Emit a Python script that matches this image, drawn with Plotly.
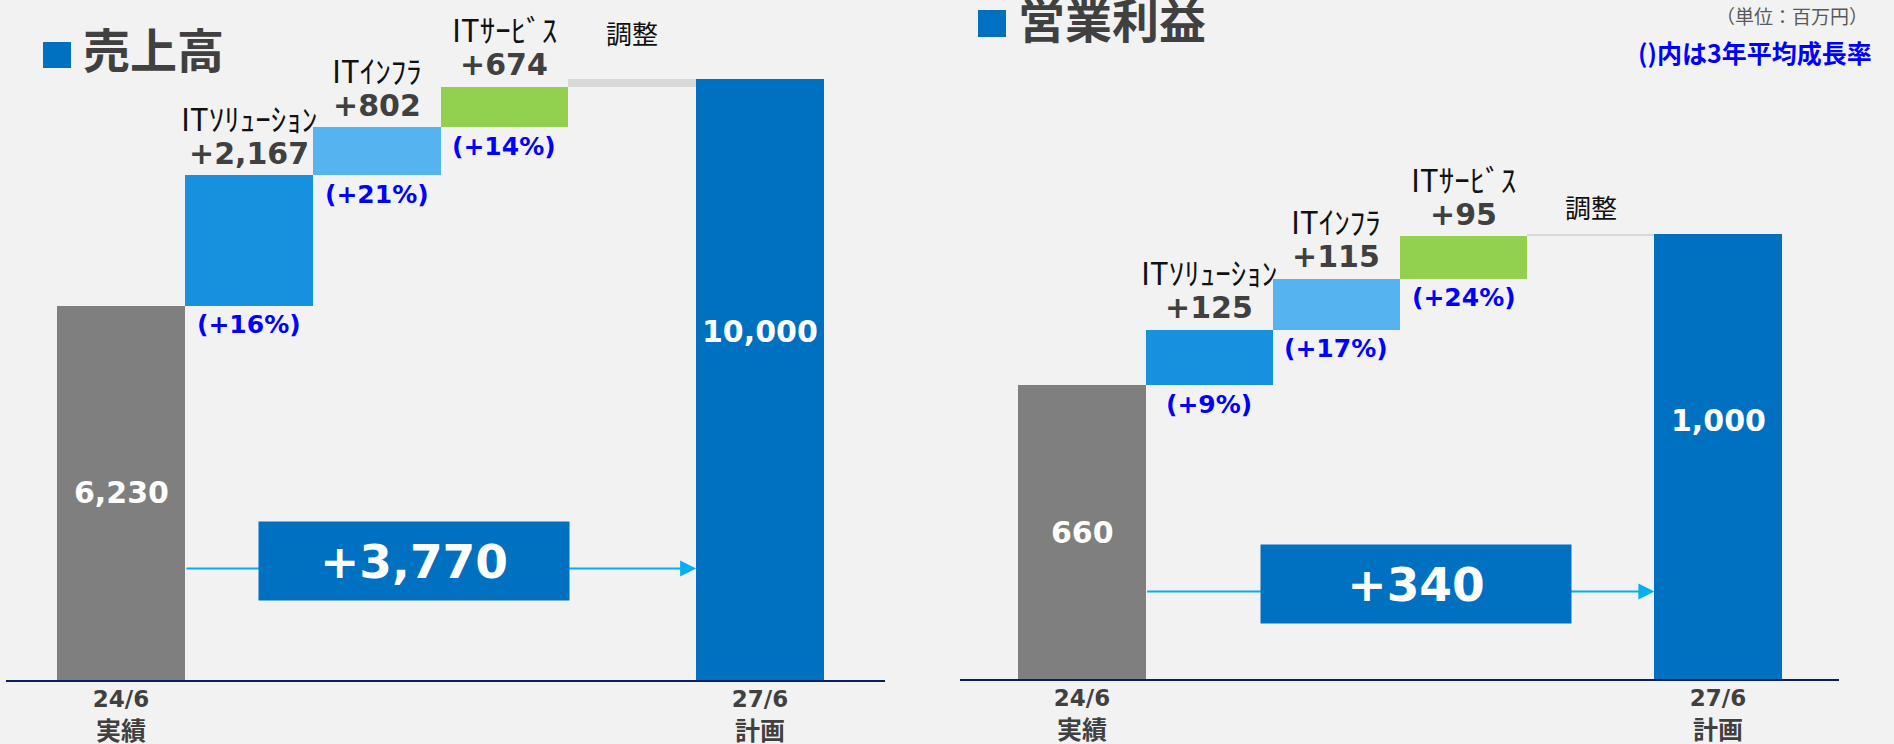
import plotly.graph_objects as go

W, H = 1894, 744

# ---------------- data ----------------
categories = ["24/6 実績", "ITｿﾘｭｰｼｮﾝ", "ITｲﾝﾌﾗ", "ITｻｰﾋﾞｽ", "調整", "27/6 計画"]
tick_labels = ["<span style='font-size:23px'>24/6</span><br>実績",
               "<span style='font-size:23px'>27/6</span><br>計画"]

sales_title = "売上高"
sales_start = 6230
sales_increments = [2167, 802, 674]
sales_plan = 10000
sales_cagr = ["+16%", "+21%", "+14%"]

profit_title = "営業利益"
profit_start = 660
profit_increments = [125, 115, 95]
profit_plan = 1000
profit_cagr = ["+9%", "+17%", "+24%"]

unit_text = "（単位：百万円）"
note_text = "()内は3年平均成長率"

bar_colors = ["#7f7f7f", "#1591dd", "#55b4f0", "#92d050", "#d9d9d9", "#0070c0"]

NUM = "DejaVu Sans, Noto Sans CJK JP"
JP = "Noto Sans CJK JP"
BG = "#f2f2f2"


def waterfall(start, incs, plan):
    adj = plan - start - sum(incs)
    heights = [start] + list(incs) + [adj, plan]
    bases = [0]
    run = start
    for inc in incs:
        bases.append(run)
        run += inc
    bases.append(run)
    bases.append(0)
    return bases, heights


panels = [
    dict(n="", title=sales_title, start=sales_start, incs=sales_increments, plan=sales_plan,
         cagr=sales_cagr, xdom=(6, 885), c0=121, unit=127.8, y0=680, pxper=0.0601,
         adj_shift=47, box_x=2.293, sq=(43, 42, 71, 68), title_x=81, title_y=48),
    dict(n="2", title=profit_title, start=profit_start, incs=profit_increments, plan=profit_plan,
         cagr=profit_cagr, xdom=(960, 1839), c0=1082, unit=127.2, y0=679, pxper=0.445,
         adj_shift=28, box_x=2.626, sq=(978, 10, 1006, 37), title_x=1016, title_y=18),
]

fig = go.Figure()
annotations = []
shapes = []
layout = {}

for p in panels:
    xa, ya = "x" + p["n"], "y" + p["n"]
    bases, heights = waterfall(p["start"], p["incs"], p["plan"])
    fig.add_trace(go.Bar(
        x=categories, y=heights, base=bases, xaxis=xa, yaxis=ya,
        marker=dict(color=bar_colors, line=dict(width=0)),
        hoverinfo="skip", showlegend=False,
    ))

    x0, x1 = p["xdom"]
    layout["xaxis" + p["n"]] = dict(
        domain=[x0 / W, x1 / W],
        range=[(x0 - p["c0"]) / p["unit"], (x1 - p["c0"]) / p["unit"]],
        anchor=ya, showgrid=False, zeroline=False, automargin=False,
        showline=True, linecolor="#0a1f5c", linewidth=2, layer="below traces",
        tickmode="array", tickvals=[categories[0], categories[-1]], ticktext=tick_labels,
        ticks="", ticklabelstandoff=-5,
        tickfont=dict(family=NUM, size=25, color="#404040", weight="bold"),
        fixedrange=True,
    )
    layout["yaxis" + p["n"]] = dict(
        domain=[1 - p["y0"] / H, 1], range=[0, p["y0"] / p["pxper"]],
        anchor=xa, visible=False, fixedrange=True, automargin=False,
    )

    def ann(x, y, text, size, color, family, bold=False, yshift=0, **kw):
        d = dict(xref=xa, yref=ya, x=x, y=y, text=text, showarrow=False,
                 yshift=yshift, xanchor="center", yanchor="middle",
                 font=dict(family=family, size=size, color=color,
                           weight="bold" if bold else "normal"))
        d.update(kw)
        annotations.append(d)

    # segment labels
    for i, inc in enumerate(p["incs"]):
        cat = categories[i + 1]
        top = bases[i + 1] + heights[i + 1]
        bot = bases[i + 1]
        ann(cat, top, cat, 31, "#111111", JP, yshift=58)
        ann(cat, top, f"+{inc:,}", 30, "#404040", NUM, bold=True, yshift=22)
        ann(cat, bot, f"({p['cagr'][i]})", 25, "#0000ff", NUM, bold=True, yshift=-19)

    # adjustment label
    ann(categories[4], p["plan"], categories[4], 26, "#111111", JP, yshift=p["adj_shift"])
    # start / plan values inside bars
    ann(categories[0], p["start"] / 2, f"{p['start']:,}", 30, "white", NUM, bold=True)
    ann(categories[5], p["plan"] * 0.58, f"{p['plan']:,}", 30, "white", NUM, bold=True)

    # arrow + growth box
    arrow_y = p["start"] * 0.298
    annotations.append(dict(
        xref=xa, yref=ya, axref=xa, ayref=ya, x=4.5, y=arrow_y, ax=0.5, ay=arrow_y,
        text="", showarrow=True, arrowhead=2, arrowsize=1.6, arrowwidth=2,
        arrowcolor="#00b0f0", standoff=0, startstandoff=0,
    ))
    ann(p["box_x"], arrow_y, f"+{p['plan'] - p['start']:,}", 47, "white", NUM, bold=True,
        yshift=7, width=310, height=78, bgcolor="#0070c0", borderpad=0)

    # title
    sx0, sy0, sx1, sy1 = p["sq"]
    shapes.append(dict(type="rect", xref="paper", yref="paper",
                       x0=sx0 / W, x1=sx1 / W, y0=1 - sy1 / H, y1=1 - sy0 / H,
                       fillcolor="#0070c0", line=dict(width=0)))
    annotations.append(dict(
        xref="paper", yref="paper", x=p["title_x"] / W, y=1 - p["title_y"] / H,
        text=p["title"], showarrow=False, xanchor="left", yanchor="middle",
        font=dict(family=JP, size=47, color="#404040", weight="bold"),
    ))

# unit & note
annotations.append(dict(
    xref="paper", yref="paper", x=1870 / W, y=1 - 16 / H, text=unit_text,
    showarrow=False, xanchor="right", yanchor="middle",
    font=dict(family=JP, size=19, color="#595959"),
))
annotations.append(dict(
    xref="paper", yref="paper", x=1874 / W, y=1 - 52 / H, text=note_text,
    showarrow=False, xanchor="right", yanchor="middle",
    font=dict(family=JP, size=25, color="#0000ff", weight="bold"),
))

fig.update_layout(
    width=W, height=H, margin=dict(l=0, r=0, t=0, b=0, pad=0, autoexpand=False),
    paper_bgcolor=BG, plot_bgcolor=BG, bargap=0, barmode="overlay",
    annotations=annotations, shapes=shapes, **layout,
)

fig.write_html(
    "out.html",
    config={"displayModeBar": False},
    post_script="document.body.style.margin='0px';document.body.style.background='#f2f2f2';",
)
